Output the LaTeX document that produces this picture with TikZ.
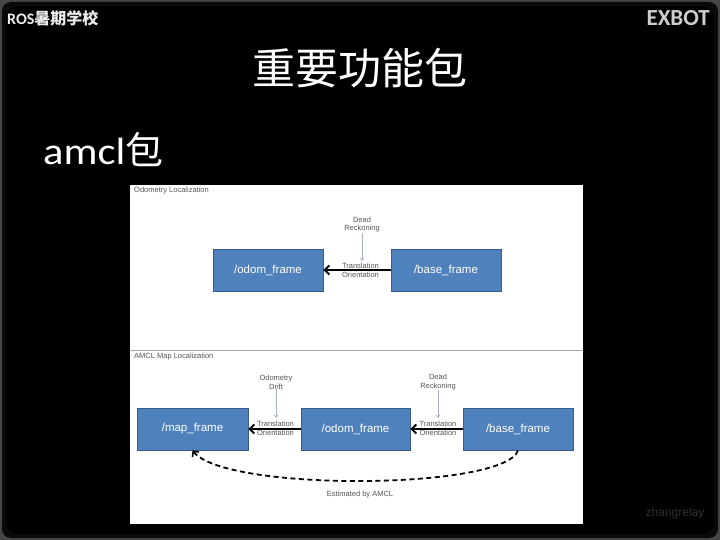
\documentclass[tikz,border=0pt]{standalone}
\usepackage{fontspec}
\setmainfont{Liberation Sans}
\newfontfamily\cjk{Noto Sans CJK SC}
\newfontfamily\carl{Carlito}
\newfontfamily\carlw[FakeStretch=1.12]{Carlito}
\usetikzlibrary{arrows.meta}
\definecolor{boxblue}{RGB}{79,129,189}
\definecolor{boxedge}{RGB}{56,93,138}
\definecolor{lbl}{RGB}{85,85,85}
\definecolor{hintc}{RGB}{165,175,190}
\definecolor{edgegray}{RGB}{70,70,70}
\definecolor{brandgray}{RGB}{205,205,205}
\definecolor{wmark}{RGB}{48,48,48}
\begin{document}
\begin{tikzpicture}[x=1pt,y=-1pt,
  frame/.style={draw=boxedge,fill=boxblue,line width=0.8pt,minimum width=110pt,minimum height=42pt,inner sep=0pt,text=white,font=\fontsize{11.5}{13}\selectfont},
  small/.style={text=lbl,font=\fontsize{7.5}{8.8}\selectfont,align=center,inner sep=0pt},
  heavy/.style={line width=2.6pt,-{Straight Barb[length=4.5pt,width=9pt,line width=2pt]}},
  hint/.style={draw=hintc,line width=0.7pt,-{Straight Barb[length=2.5pt,width=4pt]}},
  estim/.style={line width=1.8pt,dash pattern=on 5pt off 3.5pt,-{Straight Barb[length=4pt,width=8pt,line width=1.6pt]}}
]
\useasboundingbox (0,0) rectangle (720,540);
\fill[edgegray] (0,0) rectangle (720,540);
\fill[black!85!edgegray,rounded corners=9pt] (2,2) rectangle (718,538);
\fill[black,rounded corners=12pt] (6,6) rectangle (714,534);

\node[anchor=west,text=black!8,inner sep=0pt,font=\fontsize{16}{18}\selectfont] (school) at (7,18.5) {{\carl\bfseries ROS}{\cjk\bfseries 暑期学校}};
\node[anchor=east,text=brandgray,inner sep=0pt,font=\fontsize{23}{25}\selectfont] (brand) at (710,18) {\carl\bfseries EXBOT};
\node[text=white,inner sep=0pt,font=\fontsize{43}{46}\selectfont] (title) at (360,68) {\cjk 重要功能包};
\node[anchor=base west,text=white,inner sep=0pt] (sub) at (43,165) {{\fontsize{38}{42}\selectfont\carlw amcl}{\fontsize{38}{42}\selectfont\cjk 包}};

\fill[white] (130,185) rectangle (583,524);
\draw[gray!70,line width=0.8pt] (130,350.5) -- (583,350.5);

% upper panel
\node[small,anchor=west] (t1) at (134,191) {Odometry Localization};
\node[frame] (o1) at (268,270) {/odom\_frame};
\node[frame] (b1) at (446,270) {/base\_frame};
\draw[heavy] (b1) -- (o1);
\node[small] (tr1) at (360.5,270.5) {Translation\\Orientation};
\node[small] (dr1) at (362,224.5) {Dead\\Reckoning};
\coordinate (dr1e) at (362,261);
\draw[hint] (dr1) -- (dr1e);

% lower panel
\node[small,anchor=west] (t2) at (134,357) {AMCL Map Localization};
\node[frame,minimum width=111pt] (m2) at (192.5,429) {/map\_frame};
\node[frame,minimum width=109pt] (o2) at (355.5,429) {/odom\_frame};
\node[frame] (b2) at (518,429) {/base\_frame};
\draw[heavy] (o2) -- (m2);
\draw[heavy] (b2) -- (o2);
\node[small] (tr2) at (275.5,428.5) {Translation\\Orientation};
\node[small] (tr3) at (438,428.5) {Translation\\Orientation};
\node[small] (od2) at (276,382) {Odometry\\Drift};
\node[small] (dr2) at (438,382) {Dead\\Reckoning};
\coordinate (od2e) at (276,418);
\coordinate (dr2e) at (438,418);
\draw[hint] (od2) -- (od2e);
\draw[hint] (dr2) -- (dr2e);
\draw[estim] (b2.south) .. controls (505,490) and (225,492) .. (m2.south);
\node[small] (est) at (360,495) {Estimated by AMCL};

\node[text=wmark,inner sep=0pt,font=\fontsize{12}{14}\selectfont] (wm) at (675,513) {zhangrelay};
\end{tikzpicture}
\end{document}
